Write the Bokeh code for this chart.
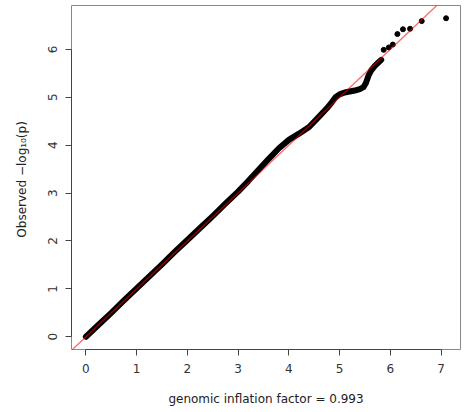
from bokeh.plotting import figure
from bokeh.models import Range1d, Slope, FixedTicker, ColumnDataSource
from bokeh.embed import file_html
from bokeh.resources import INLINE

# Expected vs observed -log10(p) quantiles (dense band)
expected_band = [0.0, 0.25, 0.5, 0.75, 1.0, 1.25, 1.5, 1.75, 2.0, 2.25, 2.5, 2.75,
                 3.0, 3.2, 3.4, 3.6, 3.8, 4.0, 4.2, 4.4, 4.6, 4.75, 4.85,
                 4.92, 5.0, 5.1, 5.2, 5.3, 5.4, 5.47, 5.52, 5.57, 5.63, 5.70, 5.76, 5.82]
observed_band = [0.0, 0.25, 0.5, 0.76, 1.01, 1.26, 1.51, 1.77, 2.02, 2.27, 2.52, 2.78,
                 3.03, 3.25, 3.48, 3.71, 3.93, 4.11, 4.24, 4.38, 4.60, 4.77, 4.90,
                 5.00, 5.06, 5.10, 5.12, 5.14, 5.17, 5.21, 5.30, 5.45, 5.57, 5.66, 5.72, 5.78]
# Sparse top points
expected_top = [5.87, 5.97, 6.05, 6.14, 6.25, 6.39, 6.62, 7.10]
observed_top = [5.99, 6.04, 6.10, 6.32, 6.42, 6.43, 6.59, 6.65]

x_ticks = [0, 1, 2, 3, 4, 5, 6, 7]
y_ticks = [0, 1, 2, 3, 4, 5, 6]
x_title = "genomic inflation factor = 0.993"
y_title = "Observed  \u2212log\u2081\u2080(p)"

xmax = max(expected_top)
ymax = max(observed_top)

p = figure(width=464, height=412, output_backend="svg", toolbar_location=None,
           x_range=Range1d(-0.04 * xmax, xmax * 1.04),
           y_range=Range1d(-0.04 * ymax, ymax * 1.04),
           min_border_left=71, min_border_right=4, min_border_top=5, min_border_bottom=63)

p.xgrid.visible = False
p.ygrid.visible = False
p.outline_line_color = "#888888"
p.outline_line_width = 1
p.background_fill_color = "white"
p.border_fill_color = "white"

band = ColumnDataSource(dict(x=expected_band, y=observed_band))
top = ColumnDataSource(dict(x=expected_top, y=observed_top))

p.line("x", "y", source=band, line_color="black", line_width=6,
       line_cap="round", line_join="round")
p.scatter("x", "y", source=top, size=5, color="black")

p.add_layout(Slope(gradient=1, y_intercept=0, line_color="red", line_alpha=0.6, line_width=1.2))

for ax, ticks in ((p.xaxis, x_ticks), (p.yaxis, y_ticks)):
    ax.ticker = FixedTicker(ticks=ticks)
    ax.minor_tick_line_color = None
    ax.major_tick_in = 0
    ax.major_tick_out = 6
    ax.major_tick_line_color = "#444444"
    ax.axis_line_color = "#444444"
    ax.major_label_text_font = "DejaVu Sans"
    ax.major_label_text_font_size = "12px"
    ax.major_label_text_color = "#333333"
    ax.axis_label_text_font = "DejaVu Sans"
    ax.axis_label_text_font_size = "12px"
    ax.axis_label_text_font_style = "normal"
    ax.axis_label_text_color = "#222222"

p.xaxis.bounds = (0, 7)
p.yaxis.bounds = (0, 6)
p.xaxis.axis_label = x_title
p.yaxis.axis_label = y_title
p.xaxis.major_label_standoff = 8
p.yaxis.major_label_standoff = 8
p.yaxis.major_label_orientation = "vertical"
p.xaxis.axis_label_standoff = 16
p.yaxis.axis_label_standoff = 17

open("out.html", "w").write(file_html(p, INLINE))
